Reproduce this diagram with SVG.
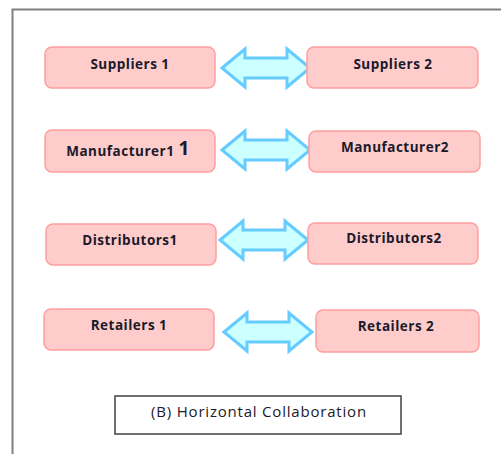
<svg xmlns="http://www.w3.org/2000/svg" width="501" height="454" viewBox="0 0 501 454">
<style>
.node rect{fill:#FFCCCC;stroke:#FF9F9F;stroke-width:1.5}
.node text{font-family:"Open Sans","Liberation Sans",sans-serif;font-weight:bold;font-size:13.5px;letter-spacing:0.5px;fill:#1a1a2a;text-anchor:middle}
.arr{fill:#CCFFFF;stroke:#66CCFF;stroke-width:3;stroke-linejoin:miter}
.cap text{font-family:"Open Sans","Liberation Sans",sans-serif;font-size:15px;letter-spacing:0.8px;fill:#1a1a2a;text-anchor:middle}
</style>
<defs>
<path id="dbl" d="M0,0 L23,-19 L23,-10 L65,-10 L65,-19 L88,0 L65,19 L65,10 L23,10 L23,19 Z"/>
</defs>
<rect x="0" y="0" width="501" height="454" fill="#fff"/>
<path d="M12.5,460 V9.5 H510" fill="none" stroke="#808080" stroke-width="2"/>
<g id="connectors">
<use href="#dbl" class="arr" transform="translate(222,68)"/>
<use href="#dbl" class="arr" transform="translate(222,150)"/>
<use href="#dbl" class="arr" transform="translate(220,240)"/>
<use href="#dbl" class="arr" transform="translate(224,332)"/>
</g>
<g id="suppliers1" class="node"><rect x="45" y="47" width="170" height="41" rx="7"/><text x="130" y="69">Suppliers 1</text></g>
<g id="suppliers2" class="node"><rect x="307" y="47" width="171" height="41" rx="7"/><text x="393" y="69">Suppliers 2</text></g>
<g id="manufacturer1" class="node"><rect x="45" y="130" width="170" height="42" rx="7"/><text x="128" y="156">Manufacturer1 <tspan font-size="19" dy="-1">1</tspan></text></g>
<g id="manufacturer2" class="node"><rect x="309" y="131" width="171" height="41" rx="7"/><text x="395" y="152">Manufacturer2</text></g>
<g id="distributors1" class="node"><rect x="46" y="224" width="170" height="41" rx="7"/><text x="130" y="245">Distributors1</text></g>
<g id="distributors2" class="node"><rect x="308" y="223" width="170" height="41" rx="7"/><text x="394" y="243">Distributors2</text></g>
<g id="retailers1" class="node"><rect x="44" y="309" width="170" height="41" rx="7"/><text x="129" y="330">Retailers 1</text></g>
<g id="retailers2" class="node"><rect x="316" y="310" width="163" height="42" rx="7"/><text x="396" y="331">Retailers 2</text></g>
<g id="caption" class="cap"><rect x="115" y="396" width="286" height="38" fill="#fff" stroke="#404040" stroke-width="1.5"/><text x="259" y="417">(B) Horizontal Collaboration</text></g>
</svg>
